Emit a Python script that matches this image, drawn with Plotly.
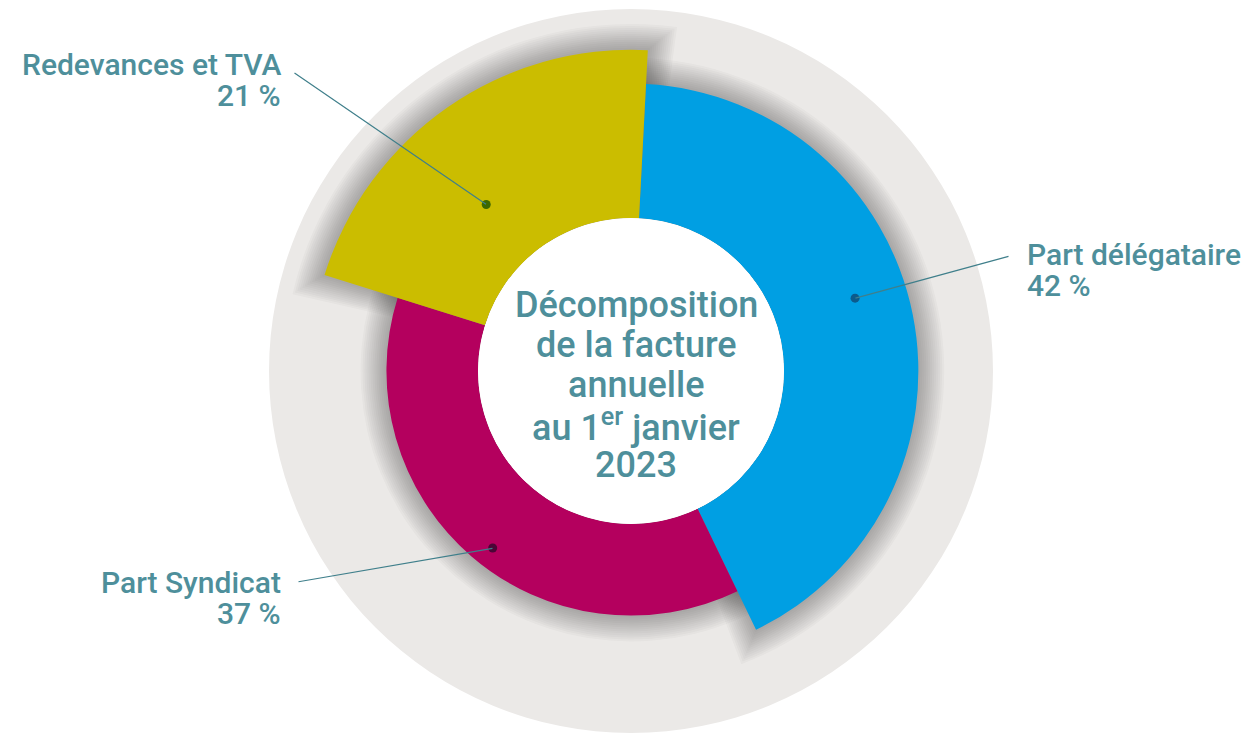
import math
import plotly.graph_objects as go

# Données : décomposition de la facture annuelle au 1er janvier 2023
categories = ['Part délégataire', 'Part Syndicat', 'Redevances et TVA']
pourcentages = [42, 37, 21]
etiquettes = ['42 %', '37 %', '21 %']
titre_lignes = ['Décomposition', 'de la facture', 'annuelle', 'au 1<sup>er</sup> janvier', '2023']

# Style
couleurs = ['#009fe3', '#b4005e', '#cbbd00']
couleurs_points = ['#0c5a8c', '#4a0636', '#3d6800']
couleur_texte = '#4e8f9b'
couleur_trait = '#3f7f8b'
rayons = [288, 245, 322]     # rayon extérieur de chaque part (px)
rayon_trou = 153
rayon_fond = 363
decalage = 3                 # degrés, départ de la première part
police = 'Roboto, Liberation Sans, Arial, sans-serif'

# la page html décale la figure de 8 px (marge du body) : on compense
cx, cy = 623, 363            # centre du camembert dans la figure (px depuis le haut gauche)

# points des étiquettes (angle, rayon) et position des textes (repère centré sur le camembert)
angles_points = [72, 218, 319]
rayons_points = [236, 225, 221]
queue_x = [379, -334, -338]
queue_y = [115, -211, 299]
texte_x = [394, -348, -348]
texte_ancre = ['left', 'right', 'right']
ligne1_y = [117, -211, 307]
ligne2_y = [86, -242, 276]
titre_y = [66, 26, -14, -54, -94]

# angles des parts
largeurs = [p * 3.6 for p in pourcentages]
centres = []
cumul = 0
for l in largeurs:
    centres.append(decalage + cumul + l / 2)
    cumul += l

fig = go.Figure()

# trace vide pour créer les axes cartésiens (repère des annotations)
fig.add_trace(go.Scatter(x=[None], y=[None], showlegend=False, hoverinfo='skip'))

# ombre portée autour des parts
for k in range(1, 14):
    d = 2 * k
    fig.add_trace(go.Barpolar(
        theta=centres,
        width=[l + 2 * math.degrees(d / r) for l, r in zip(largeurs, rayons)],
        r=[r + d - rayon_trou for r in rayons],
        base=rayon_trou,
        marker=dict(color='rgba(30,30,30,0.028)', line=dict(width=0)),
        hoverinfo='skip',
        showlegend=False
    ))

# les parts
fig.add_trace(go.Barpolar(
    theta=centres,
    width=largeurs,
    r=[r - rayon_trou for r in rayons],
    base=rayon_trou,
    marker=dict(color=couleurs, line=dict(width=0)),
    text=[c + ' ' + e for c, e in zip(categories, etiquettes)],
    hoverinfo='text',
    showlegend=False
))

# points des étiquettes
fig.add_trace(go.Scatterpolar(
    theta=angles_points,
    r=rayons_points,
    mode='markers',
    marker=dict(color=couleurs_points, size=9),
    hoverinfo='skip',
    showlegend=False
))

annotations = []
for i in range(len(categories)):
    hx = rayons_points[i] * math.sin(math.radians(angles_points[i]))
    hy = rayons_points[i] * math.cos(math.radians(angles_points[i]))
    # trait de rappel
    annotations.append(dict(
        x=hx, y=hy, xref='x', yref='y',
        ax=queue_x[i], ay=queue_y[i], axref='x', ayref='y',
        text='', showarrow=True, arrowhead=0, arrowwidth=1.2,
        arrowcolor=couleur_trait, standoff=0, startstandoff=0
    ))
    annotations.append(dict(
        x=texte_x[i], y=ligne1_y[i], xref='x', yref='y',
        text=categories[i], showarrow=False, xanchor=texte_ancre[i], yanchor='middle',
        font=dict(family=police, size=30, color=couleur_texte, weight=500)
    ))
    annotations.append(dict(
        x=texte_x[i], y=ligne2_y[i], xref='x', yref='y',
        text=etiquettes[i], showarrow=False, xanchor=texte_ancre[i], yanchor='middle',
        font=dict(family=police, size=30, color=couleur_texte, weight=500)
    ))

# texte du centre
for ligne, y in zip(titre_lignes, titre_y):
    annotations.append(dict(
        x=5, y=y, xref='x', yref='y', text=ligne, showarrow=False,
        xanchor='center', yanchor='middle',
        font=dict(family=police, size=36, color=couleur_texte, weight=500)
    ))

fig.update_layout(
    width=1252, height=733,
    margin=dict(l=0, r=0, t=0, b=0),
    paper_bgcolor='white',
    plot_bgcolor='white',
    showlegend=False,
    xaxis=dict(range=[-cx, 1252 - cx], visible=False, fixedrange=True, domain=[0, 1]),
    yaxis=dict(range=[cy - 733, cy], visible=False, fixedrange=True, domain=[0, 1]),
    polar=dict(
        domain=dict(x=[(cx - rayon_fond) / 1252, (cx + rayon_fond) / 1252],
                    y=[(733 - cy - 362) / 733, (733 - cy + 362) / 733]),
        bgcolor='#ebe9e7',
        hole=rayon_trou / 362,
        barmode='overlay',
        radialaxis=dict(range=[rayon_trou, rayon_fond], visible=False),
        angularaxis=dict(direction='clockwise', rotation=90, visible=False)
    ),
    annotations=annotations
)

fig.write_html('out.html')
